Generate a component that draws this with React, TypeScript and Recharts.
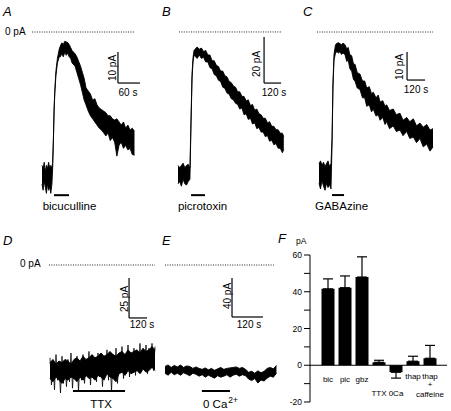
import { Area, Bar, BarChart, ComposedChart, ErrorBar, Line, ReferenceLine, XAxis, YAxis } from "recharts";

const ink = "#000";
const font = "'Liberation Sans', Arial, sans-serif";

// A - bicuculline (s, pA: lower / upper edge of the noisy trace)
const aTime = [0, 3, 6, 9, 12, 15, 18, 21, 24, 27, 29, 31, 33, 35, 38, 42, 47, 50, 54, 58, 62, 66, 70, 74, 78, 82, 90, 95, 100, 105, 110, 115, 120, 126, 132, 138, 144, 150, 156, 162, 168, 174, 180, 186, 192, 198, 204, 210, 216, 222, 228, 234, 240, 246, 252];
const aLow = [-49, -51, -48, -50, -52, -49, -51, -50, -52, -49, -44, -35.5, -25.5, -19.5, -14, -10, -8, -8, -7, -8, -6.5, -7.5, -6.8, -8, -8.5, -10, -11, -13, -15, -17, -19.5, -22, -23.5, -25.5, -27, -28, -29, -30, -31, -31.6, -32.5, -33.5, -32.5, -35, -34, -35.5, -40, -36.5, -35.5, -37.5, -36.5, -38, -37.5, -39.5, -39.7];
const aHigh = [-43, -44, -42, -45, -43, -44, -42, -44, -43, -44, -42, -34.5, -24.5, -18.5, -12.5, -8.5, -5.5, -4.5, -3.5, -4, -3, -3.2, -3.4, -4, -5, -6, -7, -8, -9.5, -11, -13, -15, -18, -19, -20, -22, -21.5, -23.5, -24.5, -25, -25.5, -26, -27, -27, -28, -28.4, -28, -29, -30, -29, -31, -30, -31.6, -31, -32];

// B - picrotoxin
const bTime = [0, 12, 24, 36, 48, 60, 72, 84, 92, 99, 106, 113, 120, 135, 150, 165, 180, 195, 210, 225, 240, 255, 270, 285, 300, 315, 330, 345, 360, 375, 390, 405, 420, 435, 450, 465, 480, 495, 510, 525, 540, 555, 570, 585, 600, 615, 630, 645, 660, 675, 690, 705, 720, 735, 745];
const bLow = [-66, -65, -67, -64, -66, -66.5, -65, -64, -39, -20, -13, -10, -10.5, -11.5, -10, -11.5, -11, -13, -13, -15.5, -16, -18.5, -19, -21, -21.5, -24, -24.5, -26.5, -27, -29, -29.5, -31, -31.5, -33.5, -33, -36, -35.5, -38, -37.5, -40, -39.5, -42, -41.5, -43.5, -43.5, -45.5, -45, -47.5, -47, -49, -48.5, -50.5, -50.5, -52.5, -51];
const bHigh = [-58, -59, -58, -57, -59, -58, -57.5, -59, -37, -18, -11, -8, -7.5, -6.5, -7.5, -7, -8.5, -8, -10, -10, -12.5, -12.5, -14.5, -15, -17, -17, -19, -19.5, -21.5, -22, -23.5, -24, -26, -26, -28, -28, -30, -29.5, -32, -31.5, -34, -33.5, -35.5, -36, -37.5, -37.5, -39.5, -39, -41, -41, -42.5, -42.5, -44, -44, -45.5];

// C - GABAzine
const cTime = [0, 10, 20, 30, 40, 50, 60, 70, 80, 87, 93, 100, 110, 120, 130, 140, 150, 160, 173, 185, 195, 205, 218, 230, 240, 255, 273, 290, 305, 318, 335, 350, 362, 380, 395, 407, 425, 440, 451, 470, 495, 515, 540, 560, 585, 605, 629, 650, 673, 695, 718, 740, 760];
const cLow = [-54, -56, -53, -55, -56.5, -54, -55.5, -54.5, -56, -40, -20, -10, -7.5, -7, -7.5, -7, -8, -7.5, -8, -10.5, -10, -13, -14, -17, -17.5, -20, -20.5, -23.5, -23.5, -26.5, -26, -28.5, -27.5, -30, -29.5, -31.5, -30.5, -33, -32, -34.5, -33.5, -35.5, -35, -37, -35.5, -38, -37.5, -39.5, -38, -41, -40, -42.5, -41];
const cHigh = [-47, -46, -47.5, -46.5, -48, -47, -46, -48, -47, -38, -18, -8, -4.5, -4, -3.8, -4.2, -4.5, -4, -4.5, -6, -5.5, -8, -8.5, -11.5, -11.5, -14.5, -15, -17.5, -17.5, -20, -19.5, -22, -21.5, -23.5, -22.5, -25, -24.5, -26.5, -26, -28, -27.5, -29.5, -29, -31.5, -30.5, -32, -31, -33.5, -32.5, -34, -33, -35, -34.5];

// D - TTX: dense core of the trace plus its spikes
const dCoreTime = [0, 20, 40, 60, 80, 100, 120, 140, 160, 180, 200, 220, 240, 260, 280, 300, 320, 340, 360, 380, 400, 420, 440, 460, 480, 500, 520, 540, 560, 580, 600, 620, 640, 660, 680, 700];
const dCoreLow = [-71, -73, -70, -72, -74, -71, -72, -70, -71, -73, -70, -72, -69, -71, -70, -72, -69, -70, -72, -68, -70, -71, -73, -68, -67, -69, -66, -68, -67, -66, -68, -65, -67, -66, -64, -66];
const dCoreHigh = [-61, -59, -62, -60, -61, -59, -60, -62, -59, -58, -60, -57, -59, -58, -56, -58, -57, -55, -57, -56, -54, -56, -57, -55, -54, -56, -53, -55, -54, -53, -55, -52, -54, -53, -51, -53];
const dTime = [0, 10, 20, 30, 40, 50, 60, 70, 80, 90, 100, 110, 120, 130, 140, 150, 160, 170, 180, 190, 200, 210, 220, 230, 240, 250, 260, 270, 280, 290, 300, 310, 320, 330, 340, 350, 360, 370, 380, 390, 400, 410, 420, 430, 440, 450, 460, 470, 480, 490, 500, 510, 520, 530, 540, 550, 560, 570, 580, 590, 600, 610, 620, 630, 640, 650, 660, 670, 680, 690, 700];
const dCurrent = [-58, -75, -60, -78, -56, -72, -62, -80, -57, -74, -61, -76, -59, -73, -55, -77, -62, -70, -57, -79, -60, -72, -56, -74, -61, -69, -54, -75, -58, -71, -60, -73, -55, -70, -59, -76, -57, -68, -53, -72, -58, -79, -56, -70, -52, -74, -57, -67, -51, -71, -56, -68, -50, -70, -55, -66, -52, -69, -54, -65, -49, -67, -53, -64, -50, -68, -52, -63, -49, -66, -51];

// E - 0 Ca2+
const eTime = [0, 12, 24, 36, 48, 60, 72, 84, 96, 108, 120, 132, 144, 156, 168, 180, 192, 204, 216, 228, 240, 252, 264, 276, 288, 300, 312, 324, 336, 348, 360, 372, 384, 396, 408, 420, 432];
const eLow = [-111, -113, -110, -112.5, -111, -113, -110.5, -112, -113.5, -111, -112, -114, -112.5, -115, -113, -114.5, -116, -113.5, -115, -114, -112.5, -115, -113, -112, -114, -112.5, -113.5, -117, -118.5, -116.5, -121, -118, -119, -116, -114, -115, -111];
const eHigh = [-104, -102.5, -105, -103, -104.5, -102.5, -105, -103.5, -104, -106, -104.5, -106, -107, -105.5, -107.5, -106, -108, -106.5, -105, -107, -106, -105.5, -105, -104.5, -106, -105, -107, -110, -109, -111, -108.5, -110.5, -109, -106, -105, -106.5, -103];

// F - summary (pA, mean and SEM)
const fCats = ["bic", "pic", "gbz", "TTX", "0Ca", "thap", "thap + caffeine"];
const fMean = [41.6, 42.2, 48, 1.6, -3.8, 2.2, 3.8];
const fErr = [5.4, 6.4, 11, 1.1, 3.2, 2.7, 7];
const fTicks = [-20, -10, 0, 10, 20, 30, 40, 50, 60];

type Row = { t: number; range?: number[]; v?: number };

function band(time: number[], low: number[], high: number[]): Row[] {
  return time.map((t, i) => ({ t, range: [low[i], high[i]] }));
}

function trace(time: number[], values: number[]): Row[] {
  return time.map((t, i) => ({ t, v: values[i] }));
}

type PanelProps = {
  left: number;
  top: number;
  width: number;
  height: number;
  xDomain: [number, number];
  yDomain: [number, number];
  data: Row[];
  spikes?: Row[];
  zero: [number, number];
  corner: [number, number];
  scaleT: number;
  scalePA: number;
  drug: [number, number, number];
};

function TracePanel(p: PanelProps) {
  const [cx, cy] = p.corner;
  return (
    <ComposedChart
      width={p.width}
      height={p.height}
      margin={{ top: 0, right: 0, bottom: 0, left: 0 }}
      style={{ position: "absolute", left: p.left, top: p.top }}
    >
      <XAxis type="number" dataKey="t" domain={p.xDomain} hide allowDataOverflow />
      <YAxis type="number" domain={p.yDomain} hide allowDataOverflow />
      <ReferenceLine
        segment={[{ x: p.zero[0], y: 0 }, { x: p.zero[1], y: 0 }]}
        stroke="#222"
        strokeDasharray="1 1.4"
      />
      <ReferenceLine segment={[{ x: cx, y: cy }, { x: cx, y: cy + p.scalePA }]} stroke={ink} strokeWidth={1.2} />
      <ReferenceLine segment={[{ x: cx, y: cy }, { x: cx + p.scaleT, y: cy }]} stroke={ink} strokeWidth={1.2} />
      <ReferenceLine segment={[{ x: p.drug[0], y: p.drug[2] }, { x: p.drug[1], y: p.drug[2] }]} stroke={ink} strokeWidth={2} />
      <Area
        data={p.data}
        type="linear"
        dataKey="range"
        stroke={ink}
        strokeWidth={0.9}
        fill={ink}
        fillOpacity={1}
        dot={false}
        activeDot={false}
        isAnimationActive={false}
      />
      {p.spikes && (
        <Line data={p.spikes} type="linear" dataKey="v" stroke={ink} strokeWidth={0.8} dot={false} activeDot={false} isAnimationActive={false} />
      )}
    </ComposedChart>
  );
}

function FTick(props: any) {
  const { x, y, index } = props;
  const style = { fontFamily: font, fontSize: 8, fill: ink };
  if (index === 3 || index === 4) {
    return (
      <text x={x} y={y - 6} textAnchor="middle" fill={ink} style={style}>
        {fCats[index]}
      </text>
    );
  }
  if (index === 6) {
    return (
      <g>
        <text x={x} y={y - 23} textAnchor="middle" fill={ink} style={style}>thap</text>
        <text x={x} y={y - 15} textAnchor="middle" fill={ink} style={style}>+</text>
        <text x={x} y={y - 5} textAnchor="middle" fill={ink} style={style}>caffeine</text>
      </g>
    );
  }
  return (
    <text x={x} y={index === 5 ? y - 23 : y - 20} textAnchor="middle" fill={ink} style={style}>
      {fCats[index]}
    </text>
  );
}

function Summary() {
  const data = fCats.map((name, i) => ({
    name,
    mean: fMean[i],
    err: fMean[i] >= 0 ? [0, fErr[i]] : [fErr[i], 0]
  }));
  return (
    <BarChart
      width={181}
      height={181}
      data={data}
      margin={{ top: 25, right: 4, bottom: 0, left: 0 }}
      style={{ position: "absolute", left: 270, top: 230 }}
    >
      <XAxis
        dataKey="name"
        axisLine={false}
        tickLine={false}
        tickSize={0}
        tickMargin={0}
        height={9}
        interval={0}
        padding={{ left: 9.5, right: 8.5 }}
        tick={<FTick />}
      />
      <YAxis
        type="number"
        domain={[-20, 60]}
        ticks={fTicks}
        interval={0}
        width={40}
        tickSize={6}
        tickMargin={2}
        tickFormatter={(v: number) => (v % 20 === 0 ? String(v) : "")}
        axisLine={{ stroke: ink }}
        tickLine={{ stroke: ink }}
        tick={{ fill: ink, fontSize: 8.5, fontFamily: font }}
      />
      <ReferenceLine y={0} stroke={ink} strokeWidth={1.2} />
      <Bar dataKey="mean" fill={ink} barSize={13} isAnimationActive={false}>
        <ErrorBar dataKey="err" width={5} stroke={ink} strokeWidth={1.2} direction="y" />
      </Bar>
    </BarChart>
  );
}

function Labels() {
  const letter = { fontFamily: font, fontSize: 13, fontStyle: "italic" as const, fill: ink };
  const small = { fontFamily: font, fontSize: 10, fill: ink };
  const drug = { fontFamily: font, fontSize: 11.5, fill: ink };
  const vert = (x: number, y: number, s: string) => (
    <text x={x} y={y} textAnchor="middle" dominantBaseline="central" transform={`rotate(-90 ${x} ${y})`} style={small}>
      {s}
    </text>
  );
  return (
    <svg width={451} height={411} style={{ position: "absolute", left: 0, top: 0, pointerEvents: "none" }}>
      <text x={3} y={16} style={letter}>A</text>
      <text x={162} y={16} style={letter}>B</text>
      <text x={303} y={16} style={letter}>C</text>
      <text x={3} y={245} style={letter}>D</text>
      <text x={162} y={245} style={letter}>E</text>
      <text x={278} y={243} style={letter}>F</text>
      <text x={296} y={244} style={{ ...small, fontSize: 8.5 }}>pA</text>

      <text x={5} y={35} style={small}>0 pA</text>
      <text x={20} y={267} style={small}>0 pA</text>

      {vert(112, 68, "10 pA")}
      {vert(256, 64, "20 pA")}
      {vert(399, 67, "10 pA")}
      {vert(124, 299, "25 pA")}
      {vert(227, 296, "40 pA")}

      <text x={128} y={96} textAnchor="middle" style={small}>60 s</text>
      <text x={274} y={96} textAnchor="middle" style={small}>120 s</text>
      <text x={416} y={93} textAnchor="middle" style={small}>120 s</text>
      <text x={142} y={328} textAnchor="middle" style={small}>120 s</text>
      <text x={249} y={328} textAnchor="middle" style={small}>120 s</text>

      <text x={69.5} y={210} textAnchor="middle" style={drug}>bicuculline</text>
      <text x={202.5} y={210} textAnchor="middle" style={drug}>picrotoxin</text>
      <text x={341.5} y={210} textAnchor="middle" style={drug}>GABAzine</text>
      <text x={101} y={408} textAnchor="middle" style={drug}>TTX</text>
      <text x={203} y={408} style={drug}>
        0 Ca
        <tspan dx={1} dy={-5} style={{ fontSize: 8.5 }}>2+</tspan>
      </text>
    </svg>
  );
}

export default function App() {
  return (
    <div style={{ position: "absolute", left: 0, top: 0, width: 451, height: 411, background: "#fff" }}>
      <TracePanel
        left={30} top={20} width={120} height={200}
        xDomain={[-32.7, 294.3]} yDomain={[-60.6, 3.87]}
        data={band(aTime, aLow, aHigh)}
        zero={[-27, 253]} corner={[207, -16.45]} scaleT={60} scalePA={10}
        drug={[32.7, 73.6, -52.6]}
      />
      <TracePanel
        left={170} top={20} width={130} height={200}
        xDomain={[-56.3, 859]} yDomain={[-81.7, 5.2]}
        data={band(bTime, bLow, bHigh)}
        zero={[7, 725]} corner={[606, -22.2]} scaleT={120} scalePA={20}
        drug={[92, 190, -70.9]}
      />
      <TracePanel
        left={300} top={20} width={145} height={200}
        xDomain={[-126.7, 840]} yDomain={[-67.1, 4.29]}
        data={band(cTime, cLow, cHigh)}
        zero={[-13, 760]} corner={[587, -17.14]} scaleT={120} scalePA={10}
        drug={[87, 167, -58.2]}
      />
      <TracePanel
        left={30} top={250} width={130} height={161}
        xDomain={[-133.3, 733.3]} yDomain={[-91.25, 9.375]}
        data={band(dCoreTime, dCoreLow, dCoreHigh)}
        spikes={trace(dTime, dCurrent)}
        zero={[-7, 700]} corner={[527, -33.1]} scaleT={120} scalePA={25}
        drug={[153, 500, -78.75]}
      />
      <TracePanel
        left={160} top={250} width={120} height={161}
        xDomain={[-19.4, 445.7]} yDomain={[-149.7, 15.4]}
        data={band(eTime, eLow, eHigh)}
        zero={[0, 422]} corner={[259.7, -53.3]} scaleT={120} scalePA={40}
        drug={[143, 252, -129.2]}
      />
      <Summary />
      <Labels />
    </div>
  );
}
